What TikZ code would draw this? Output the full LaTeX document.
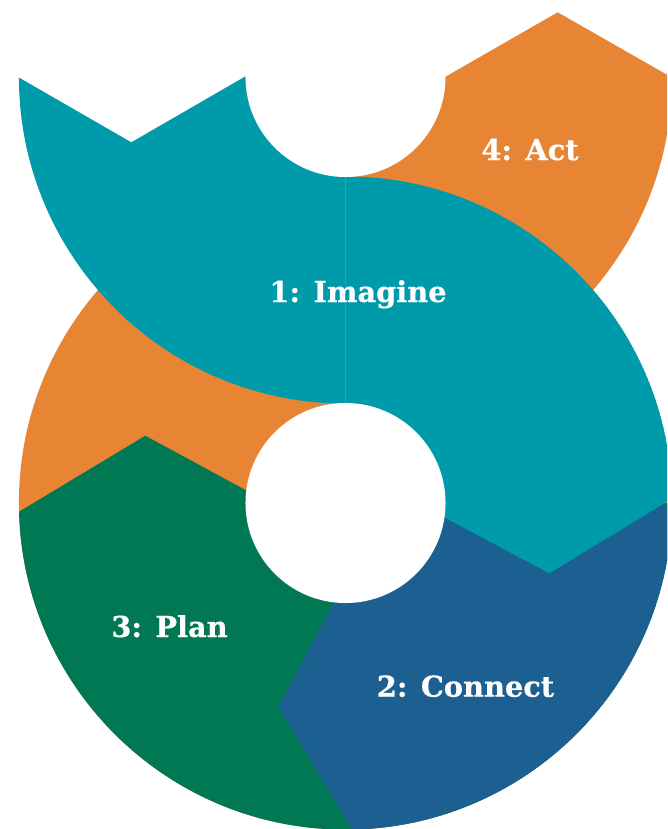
\documentclass[tikz,border=0pt]{standalone}
\usepackage{fontspec}
\usetikzlibrary{calc}
\newfontfamily\labelfont[BoldFeatures={FakeBold=0.5}]{DejaVu Serif}
\definecolor{imagineteal}{RGB}{0,155,170}
\definecolor{actorange}{RGB}{232,133,53}
\definecolor{plangreen}{RGB}{0,120,83}
\definecolor{connectblue}{RGB}{28,96,146}
\definecolor{seamgrey}{RGB}{122,134,112}
\begin{document}
\begin{tikzpicture}[x=0.025cm, y=-0.025cm,
    lbl/.style={text=white, anchor=base, font=\labelfont\bfseries\fontsize{20.5}{24}\selectfont},
    seam/.style={line width=0.8pt, color=seamgrey}]
    \clip (0,0) rectangle (667,829);
    \coordinate (U) at (345.5,77);
    \coordinate (L) at (345.5,503);
    \coordinate (a1) at (445,77);
    \coordinate (a2) at (557.7,12.3);
    \coordinate (a3) at (671,77);
    \coordinate (t1) at (18,77);
    \coordinate (t2) at (131.3,142.3);
    \coordinate (t3) at (244.3,77);
    \coordinate (b1) at (446,518.3);
    \coordinate (b2) at (549.3,573.3);
    \coordinate (b3) at (667,501.7);
    \coordinate (c1) at (333.3,604);
    \coordinate (c2) at (278.3,706.7);
    \coordinate (c3) at (351.7,828.3);
    \coordinate (g1) at (247.3,491);
    \coordinate (g2) at (145.3,435.7);
    \coordinate (g3) at (20.7,510.7);
    \coordinate (S1) at (345.5,177);
    \coordinate (S2) at (345.5,403);
    \begin{scope}
        \clip (U) circle (8.1625cm);
        \fill [actorange] (U) -- ($(a2)!1.6!(a1)$) -- (a2) -- ($(a2)!2!(a3)$)
            -- (800,600) -- (345.5,600) -- cycle;
    \end{scope}
    \begin{scope}
        \clip (L) circle (8.1625cm);
        \fill [actorange] (L) circle (8.1625cm);
        \fill [plangreen] (L) -- ($(g2)!1.6!(g1)$) -- (g2) -- ($(g2)!2!(g3)$)
            -- (-110,900) -- (800,900) -- (800,503) -- cycle;
        \fill [connectblue] (L) -- ($(c2)!1.6!(c1)$) -- (c2) -- ($(c2)!2!(c3)$)
            -- (800,950) -- (800,503) -- cycle;
        \fill [imagineteal] (L) -- (U) -- ++(460,0) -- ($(b2)!2!(b3)$) -- (b2)
            -- ($(b2)!1.6!(b1)$) -- cycle;
    \end{scope}
    \begin{scope}
        \clip (U) circle (8.1625cm);
        \fill [imagineteal] (U) -- ($(t2)!1.6!(t3)$) -- (t2) -- ($(t2)!2!(t1)$)
            -- (-100,600) -- (345.5,600) -- cycle;
    \end{scope}
    \fill [white] (U) circle (2.5cm);
    \fill [white] (L) circle (2.5cm);
    \draw [seam] (S1) -- (S2);
    \node [lbl] (imagine) at (358,302) {1: Imagine};
    \node [lbl] (act) at (530,160) {4: Act};
    \node [lbl] (plan) at (169.5,637) {3: Plan};
    \node [lbl] (connect) at (465.5,696.7) {2: Connect};
\end{tikzpicture}
\end{document}
